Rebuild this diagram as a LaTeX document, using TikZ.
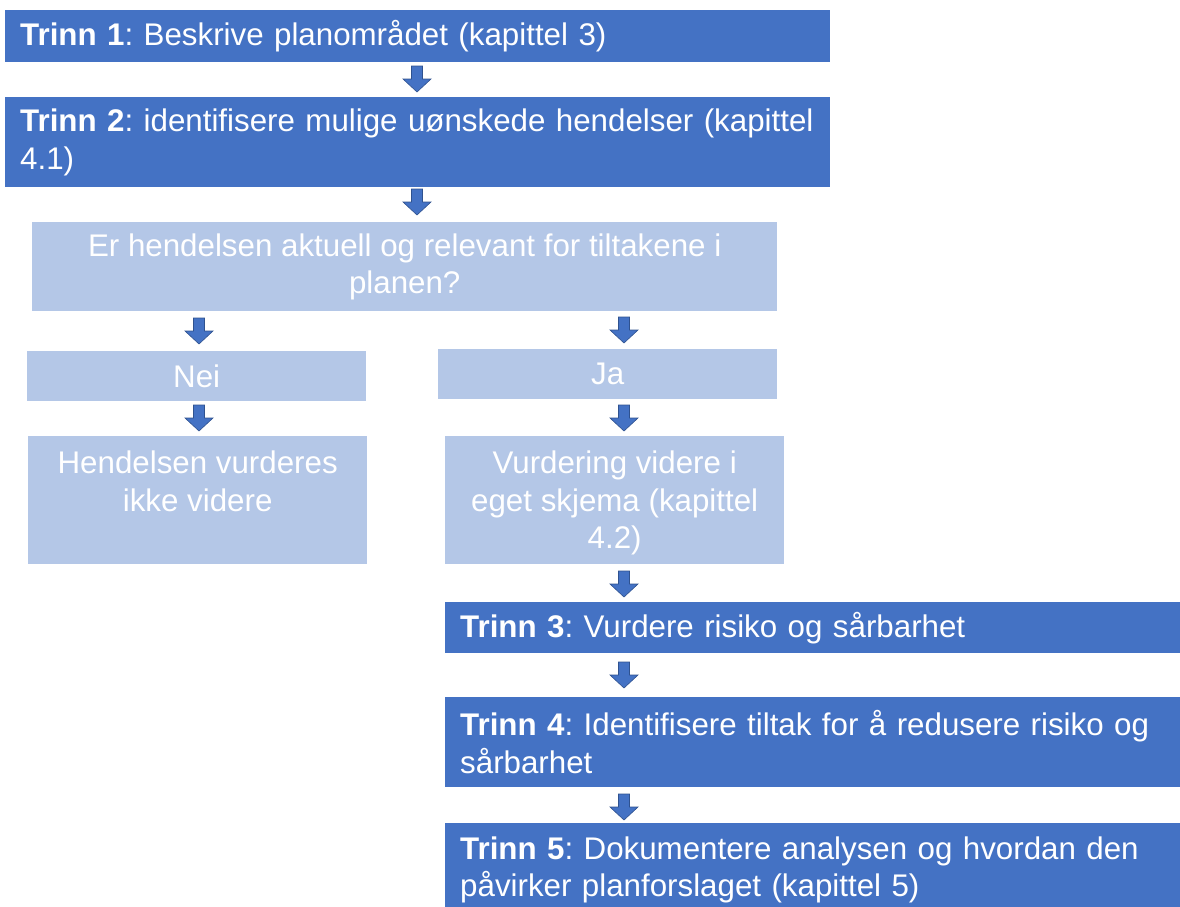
\documentclass[tikz,border=0pt]{standalone}
\usepackage{fontspec}
\setmainfont{Liberation Sans}
\frenchspacing
\definecolor{dkblue}{HTML}{4472C4}
\definecolor{ltblue}{HTML}{B4C7E7}
\definecolor{arrowline}{HTML}{2F528F}
\tikzset{
  darkbox/.style={fill=dkblue, draw=none, text=white, anchor=north west, inner ysep=0pt, inner xsep=15pt, align=left},
  lightbox/.style={fill=ltblue, draw=none, text=white, anchor=north west, inner sep=0pt, align=center},
  lighttext/.style={text=white, align=center, inner sep=0pt, anchor=north},
  blockarrow/.pic={\filldraw[fill=dkblue, draw=arrowline, line width=0.6pt] (-5.5,0) -- (5.5,0) -- (5.5,13) -- (14,13) -- (0,26) -- (-14,13) -- (-5.5,13) -- cycle;}
}
\begin{document}
\begin{tikzpicture}[x=1pt, y=-1pt, font=\fontsize{31.3}{37.5}\selectfont]
\useasboundingbox (0,0) rectangle (1180,906);
\clip (0,0) rectangle (1180,906);
% dark step boxes
\node[darkbox, minimum width=825pt, minimum height=52pt, text width=795pt] (t1) at (5,10) {\mbox{\textbf{Trinn 1}: Beskrive planområdet (kapittel 3)}};
\node[darkbox, minimum width=825pt, minimum height=90pt, text width=795pt] (t2) at (5,97) {\mbox{\textbf{Trinn 2}: identifisere mulige uønskede hendelser (kapittel}\\\mbox{4.1)}};
% question
\node[lightbox, minimum width=745pt, minimum height=89pt] (q) at (32,222) {Er hendelsen aktuell og relevant for tiltakene i\\planen?};
\node[lightbox, minimum width=339pt, minimum height=50pt] (nei) at (27,351) {Nei};
\node[lightbox, minimum width=339pt, minimum height=50pt] (ja) at (438,349) {Ja};
\node[lightbox, minimum width=339pt, minimum height=128pt] (hend) at (28,436) {};
\node[lighttext] (hendtxt) at ([yshift=-15pt]hend.north) {Hendelsen vurderes\\ikke videre};
\node[lightbox, minimum width=339pt, minimum height=128pt] (vurd) at (445,436) {};
\node[lighttext] (vurdtxt) at ([yshift=-15pt]vurd.north) {Vurdering videre i\\eget skjema (kapittel\\4.2)};
% steps 3-5
\node[darkbox, minimum width=735pt, minimum height=51pt, text width=705pt] (t3) at (445,602) {\mbox{\textbf{Trinn 3}: Vurdere risiko og sårbarhet}};
\node[darkbox, minimum width=735pt, minimum height=90pt, text width=705pt] (t4) at (445,697) {\mbox{\textbf{Trinn 4}: Identifisere tiltak for å redusere risiko og}\\\mbox{sårbarhet}};
\node[darkbox, minimum width=735pt, minimum height=93pt, text width=705pt] (t5) at (445,823) {\mbox{\textbf{Trinn 5}: Dokumentere analysen og hvordan den}\\\mbox{påvirker planforslaget (kapittel 5)}};
% block arrows
\pic (a1) at (417,66) {blockarrow};
\pic (a2) at (417,189) {blockarrow};
\pic (a3) at (199,318) {blockarrow};
\pic (a4) at (624,317) {blockarrow};
\pic (a5) at (199,405) {blockarrow};
\pic (a6) at (624,405) {blockarrow};
\pic (a7) at (624,571) {blockarrow};
\pic (a8) at (624,662) {blockarrow};
\pic (a9) at (624,794) {blockarrow};
\end{tikzpicture}
\end{document}
